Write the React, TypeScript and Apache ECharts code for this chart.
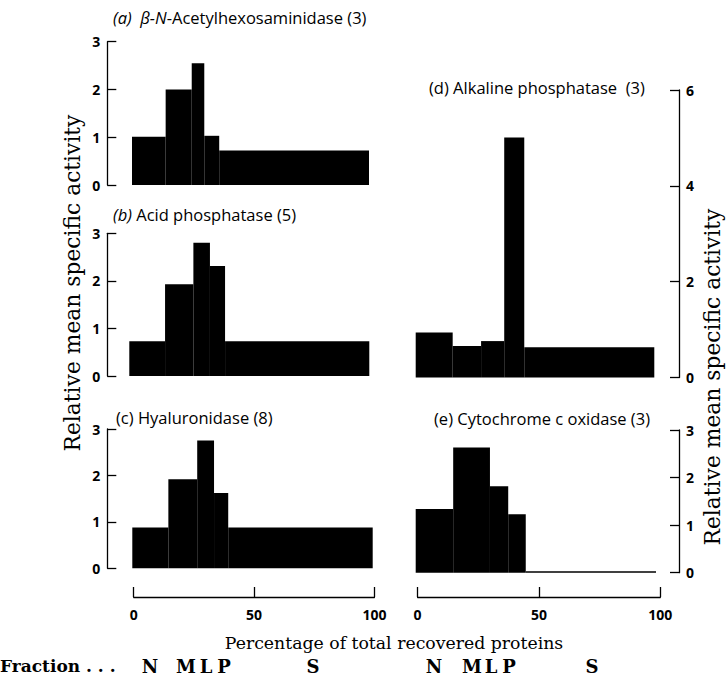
import React, { useEffect, useRef } from "react";
import * as echarts from "echarts";

// ---- data ----
// bin edges (% of total recovered protein) and relative mean specific activity per fraction N, M, L, P, S
const fractions = ["N", "M", "L", "P", "S"];

const edgesA = [0, 14.2, 25.2, 30.5, 36.8, 100];
const valuesA = [1.01, 2.0, 2.55, 1.03, 0.72];

const edgesB = [0, 14.9, 26.7, 33.6, 39.9, 100];
const valuesB = [0.73, 1.93, 2.8, 2.31, 0.73];

const edgesC = [0, 15.0, 27.0, 34.0, 39.9, 100];
const valuesC = [0.88, 1.92, 2.75, 1.62, 0.88];

const edgesD = [0, 15.5, 27.4, 37.1, 45.5, 100];
const valuesD = [0.94, 0.66, 0.76, 5.01, 0.63];

const edgesE = [0, 15.6, 30.9, 38.5, 45.8, 100];
const valuesE = [1.34, 2.63, 1.82, 1.23, 0.03];

const titles = [
  "{i|(a)}  {i|β-N}-Acetylhexosaminidase (3)",
  "{i|(b)} Acid phosphatase (5)",
  "(c) Hyaluronidase (8)",
  "(d) Alkaline phosphatase  (3)",
  "(e) Cytochrome c oxidase (3)",
];

const yMaxes = [3, 3, 3, 6, 3];
const yIntervals = [1, 1, 1, 2, 1];
const xTicks = { min: 0, max: 100, interval: 50 };

const yTitle = "Relative mean specific activity";
const xTitle = "Percentage of total recovered proteins";
const fractionLabel = "Fraction . . .";

// ---- layout ----
const panelLayout = [
  { left: 132, top: 41.7, width: 237, height: 143.3, side: "left", axisX: 107.3, titleX: 113, titleY: 17 },
  { left: 129.3, top: 233.3, width: 240, height: 142.7, side: "left", axisX: 107.3, titleX: 113, titleY: 214 },
  { left: 132.3, top: 429, width: 240.4, height: 139.3, side: "left", axisX: 107.3, titleX: 116, titleY: 417 },
  { left: 415.7, top: 90, width: 238.6, height: 287.5, side: "right", axisX: 679, titleX: 429, titleY: 87 },
  { left: 415.7, top: 430, width: 240.3, height: 142.7, side: "right", axisX: 679, titleX: 434, titleY: 418 },
];
const bottomAxes = [
  { left: 133.7, width: 240.7 },
  { left: 417.6, width: 242.7 },
];
const axisLineY = 597;

const panelsData = [
  [edgesA, valuesA],
  [edgesB, valuesB],
  [edgesC, valuesC],
  [edgesD, valuesD],
  [edgesE, valuesE],
];

const tickFont = { fontFamily: "Open Sans", fontWeight: 700, fontSize: 14, color: "#000" };
const serif = "DejaVu Serif";

function buildOption() {
  const grids: any[] = [];
  const xAxes: any[] = [];
  const yAxes: any[] = [];
  const series: any[] = [];
  const graphic: any[] = [];

  panelLayout.forEach((p, i) => {
    grids.push({ left: p.left, top: p.top, width: p.width, height: p.height });
    xAxes.push({
      gridIndex: i,
      type: "value",
      min: xTicks.min,
      max: xTicks.max,
      show: false,
    });
    const offset = p.side === "left" ? p.left - p.axisX : p.axisX - (p.left + p.width);
    yAxes.push({
      gridIndex: i,
      type: "value",
      position: p.side,
      offset,
      min: 0,
      max: yMaxes[i],
      interval: yIntervals[i],
      axisLine: { show: true, onZero: false, lineStyle: { color: "#000", width: 1.3 } },
      axisTick: { show: true, inside: true, length: 9, lineStyle: { color: "#000", width: 1.3 } },
      axisLabel: { show: true, margin: 7, ...tickFont },
      splitLine: { show: false },
    });
    const [edges, vals] = panelsData[i];
    const data = vals.map((v, k) => [edges[k], edges[k + 1], v, fractions[k]]);
    series.push({
      type: "custom",
      xAxisIndex: i,
      yAxisIndex: i,
      encode: { x: [0, 1], y: 2 },
      clip: false,
      data,
      renderItem: (params: any, api: any) => {
        const x0 = api.value(0);
        const x1 = api.value(1);
        const v = api.value(2);
        const p0 = api.coord([x0, 0]);
        const p1 = api.coord([x1, v]);
        return {
          type: "rect",
          shape: { x: p0[0], y: p1[1], width: p1[0] - p0[0], height: Math.max(p0[1] - p1[1], 1) },
          style: { fill: "#000" },
        };
      },
    });
    graphic.push({
      type: "text",
      x: p.titleX,
      y: p.titleY,
      style: {
        text: titles[i],
        fontFamily: "Open Sans",
        fontSize: 16.5,
        fill: "#000",
        align: "left",
        verticalAlign: "middle",
        rich: {
          i: { fontFamily: "Open Sans", fontSize: 16.5, fontStyle: "italic", fill: "#000" },
        },
      },
    });
  });

  bottomAxes.forEach((b) => {
    const gi = grids.length;
    grids.push({ left: b.left, top: axisLineY - 30, width: b.width, height: 30 });
    xAxes.push({
      gridIndex: gi,
      type: "value",
      position: "bottom",
      min: xTicks.min,
      max: xTicks.max,
      interval: xTicks.interval,
      axisLine: { show: true, onZero: false, lineStyle: { color: "#000", width: 1.3 } },
      axisTick: { show: true, inside: true, length: 10, lineStyle: { color: "#000", width: 1.3 } },
      axisLabel: { show: true, margin: 10, ...tickFont },
      splitLine: { show: false },
    });
    yAxes.push({ gridIndex: gi, type: "value", show: false, min: 0, max: 1 });
  });

  // axis titles
  graphic.push({
    type: "text",
    x: 72,
    y: 283,
    rotation: Math.PI / 2,
    style: { text: yTitle, fontFamily: serif, fontSize: 21.8, fill: "#000", align: "center", verticalAlign: "middle" },
  });
  graphic.push({
    type: "text",
    x: 712,
    y: 377,
    rotation: Math.PI / 2,
    style: { text: yTitle, fontFamily: serif, fontSize: 21.8, fill: "#000", align: "center", verticalAlign: "middle" },
  });
  graphic.push({
    type: "text",
    x: 394,
    y: 643,
    style: { text: xTitle, fontFamily: serif, fontSize: 17.3, fill: "#000", align: "center", verticalAlign: "middle" },
  });
  graphic.push({
    type: "text",
    x: 0,
    y: 666,
    style: { text: fractionLabel, fontFamily: serif, fontSize: 17, fontWeight: "bold", fill: "#000", align: "left", verticalAlign: "middle" },
  });
  const fracX = [
    [150, 186, 206, 224, 313],
    [434, 472, 491, 509, 592],
  ];
  fracX.forEach((row) =>
    row.forEach((x, k) =>
      graphic.push({
        type: "text",
        x,
        y: 666,
        style: { text: fractions[k], fontFamily: serif, fontSize: 18, fontWeight: "bold", fill: "#000", align: "center", verticalAlign: "middle" },
      })
    )
  );

  return {
    animation: false,
    backgroundColor: "#fff",
    grid: grids,
    xAxis: xAxes,
    yAxis: yAxes,
    series,
    graphic,
  };
}

export default function App() {
  const ref = useRef<HTMLDivElement>(null);
  useEffect(() => {
    if (!ref.current) return;
    const chart = echarts.init(ref.current, null, { renderer: "svg" });
    chart.setOption(buildOption() as any);
    return () => chart.dispose();
  }, []);
  return (
    <div
      ref={ref}
      style={{ position: "absolute", left: 0, top: 0, width: 728, height: 680, background: "#fff" }}
    />
  );
}
